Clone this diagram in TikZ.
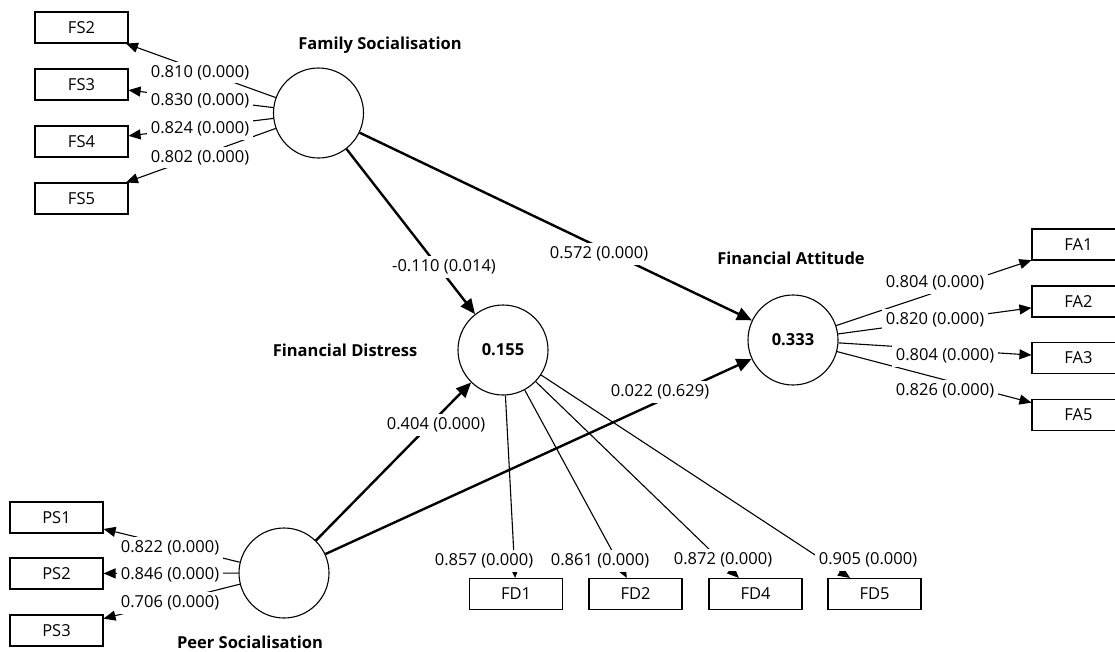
\documentclass[tikz,border=0pt]{standalone}
\usepackage{fontspec}
\setmainfont{Open Sans}
\usetikzlibrary{arrows.meta}
\begin{document}
\begin{tikzpicture}[x=1pt,y=-1pt,
  lv/.style={circle,draw,line width=1.1pt,minimum size=90pt,inner sep=0pt,font=\fontsize{16.5}{20}\selectfont\bfseries},
  mv/.style={draw,line width=1.1pt,minimum width=93pt,minimum height=31pt,inner sep=0pt,font=\fontsize{16.5}{20}\selectfont},
  ld/.style={line width=1.1pt,-{Triangle[length=12pt,width=10pt]}},
  sp/.style={line width=2.4pt,-{Triangle[length=15pt,width=13pt]}},
  lbl/.style={fill=white,inner xsep=4pt,inner ysep=3.5pt,font=\fontsize{16.5}{20}\selectfont},
  ttl/.style={font=\fontsize{16.5}{20}\selectfont\bfseries}]
\useasboundingbox (0,0) rectangle (1115,651);
% latent variables
\node[lv] (FS) at (318.5,113) {};
\node[lv] (FD) at (503,350) {0.155};
\node[lv] (FA) at (793,340) {0.333};
\node[lv] (PS) at (284,573) {};
% indicators
\node[mv] (FS2) at (81.5,27.5) {FS2};
\node[mv] (FS3) at (81.5,84.5) {FS3};
\node[mv] (FS4) at (81.5,141.5) {FS4};
\node[mv] (FS5) at (81.5,198.5) {FS5};
\node[mv] (FA1) at (1078.5,244.5) {FA1};
\node[mv] (FA2) at (1078.5,301.5) {FA2};
\node[mv] (FA3) at (1078.5,358) {FA3};
\node[mv] (FA5) at (1078.5,415) {FA5};
\node[mv] (PS1) at (56.5,517.5) {PS1};
\node[mv] (PS2) at (56.5,573.5) {PS2};
\node[mv] (PS3) at (56.5,630.5) {PS3};
\node[mv] (FD1) at (516,594) {FD1};
\node[mv] (FD2) at (635.5,594) {FD2};
\node[mv] (FD4) at (755.5,594) {FD4};
\node[mv] (FD5) at (874.5,594) {FD5};
% titles
\node[ttl] (tFS) at (380,45) {Family Socialisation};
\node[ttl] (tFD) at (345,350) {Financial Distress};
\node[ttl] (tFA) at (791,258) {Financial Attitude};
\node[ttl] (tPS) at (250,642) {Peer Socialisation};
% loadings
\foreach \t in {FS2,FS3,FS4,FS5} \draw[ld] (FS) -- (\t);
\foreach \t in {FA1,FA2,FA3,FA5} \draw[ld] (FA) -- (\t);
\foreach \t in {PS1,PS2,PS3} \draw[ld] (PS) -- (\t);
\foreach \t in {FD1,FD2,FD4,FD5} \draw[ld] (FD) -- (\t);
% structural paths
\draw[sp] (FS) -- (FD);
\draw[sp] (FS) -- (FA);
\draw[sp] (PS) -- (FD);
\draw[sp] (PS) -- (FA);
% labels
\node[lbl] (l1) at (200,72.5) {0.810 (0.000)};
\node[lbl] (l2) at (200,100.5) {0.830 (0.000)};
\node[lbl] (l3) at (200,129) {0.824 (0.000)};
\node[lbl] (l4) at (200,157.5) {0.802 (0.000)};
\node[lbl] (l5) at (935,283) {0.804 (0.000)};
\node[lbl] (l6) at (935,320) {0.820 (0.000)};
\node[lbl] (l7) at (945,356) {0.804 (0.000)};
\node[lbl] (l8) at (945,391) {0.826 (0.000)};
\node[lbl] (l9) at (170,548) {0.822 (0.000)};
\node[lbl] (l10) at (170,575) {0.846 (0.000)};
\node[lbl] (l11) at (170,603) {0.706 (0.000)};
\node[lbl] (l12) at (484,561) {0.857 (0.000)};
\node[lbl] (l13) at (600,561) {0.861 (0.000)};
\node[lbl] (l14) at (723,560) {0.872 (0.000)};
\node[lbl] (l15) at (868,560) {0.905 (0.000)};
\node[lbl] (l16) at (444,267) {-0.110 (0.014)};
\node[lbl] (l17) at (599,254) {0.572 (0.000)};
\node[lbl] (l18) at (436,425) {0.404 (0.000)};
\node[lbl] (l19) at (660,392) {0.022 (0.629)};
\end{tikzpicture}
\end{document}
